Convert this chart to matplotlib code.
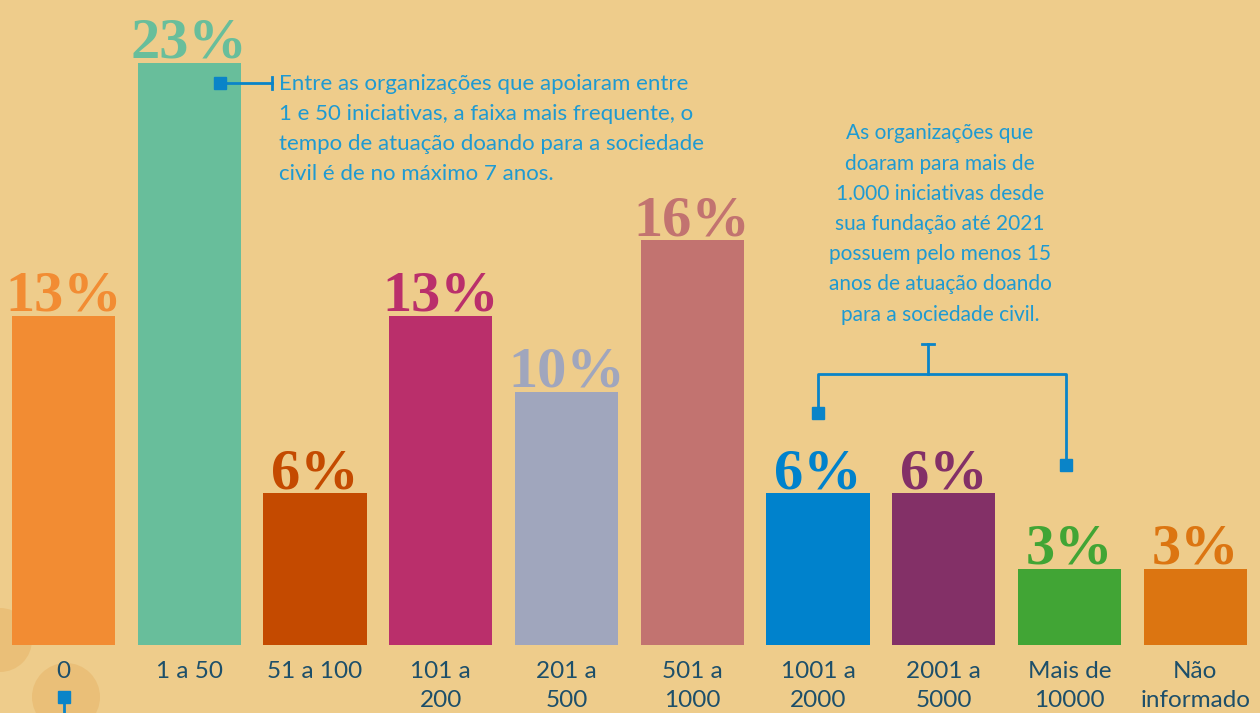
import matplotlib.pyplot as plt
from matplotlib.patches import Circle
from matplotlib.transforms import IdentityTransform

categories = ["0", "1 a 50", "51 a 100", "101 a\n200", "201 a\n500", "501 a\n1000",
              "1001 a\n2000", "2001 a\n5000", "Mais de\n10000", "Não\ninformado"]
values = [13, 23, 6, 13, 10, 16, 6, 6, 3, 3]
colors = ["#F28C33", "#68BE9B", "#C44A00", "#BA2F6B", "#A0A6BD",
          "#C27370", "#0082CC", "#833067", "#41A535", "#DC7511"]

note_left = ("Entre as organizações que apoiaram entre\n"
             "1 e 50 iniciativas, a faixa mais frequente, o\n"
             "tempo de atuação doando para a sociedade\n"
             "civil é de no máximo 7 anos.")
note_right = ("As organizações que\ndoaram para mais de\n1.000 iniciativas desde\n"
              "sua fundação até 2021\npossuem pelo menos 15\nanos de atuação doando\n"
              "para a sociedade civil.")

BG = "#EECC8B"
LINE = "#0A84C8"
W, H = 1260, 713

fig = plt.figure(figsize=(12.6, 7.13), dpi=100, facecolor=BG)
ax = fig.add_axes([0, 0, 1, 1])
ax.set_facecolor(BG)
ax.set_xlim(-0.505, 9.515)
ax.set_ylim(-2.69, 25.49)
ax.axis("off")


def fx(x):
    return x / W


def fy(y):
    return 1 - y / H


# faint decorative circles bottom-left (pixel units)
for cx, cy, r in [(0, 640, 32), (66, 697, 34)]:
    ax.add_patch(Circle((cx, H - cy), r, transform=IdentityTransform(),
                        color="#EABF78", zorder=0.5, lw=0))

x = range(len(values))
ax.bar(x, values, width=0.82, color=colors, zorder=2)

for i, (v, c) in enumerate(zip(values, colors)):
    ax.text(i, v + 0.2, f"{v}%", ha="center", va="baseline", color=c,
            fontsize=42, fontweight="bold", family="Liberation Serif", zorder=3)
    ax.text(i, -0.62, categories[i], ha="center", va="top", color="#1D4F6A",
            fontsize=17.5, family="Lato", linespacing=1.5)

# left annotation
ax.text(fx(279), fy(74), note_left, transform=fig.transFigure, ha="left", va="top",
        color="#1E9AD2", fontsize=16, family="Lato", linespacing=1.62)
fig.add_artist(plt.Line2D([fx(220), fx(272)], [fy(83)] * 2, color=LINE, lw=2))
fig.add_artist(plt.Line2D([fx(272)] * 2, [fy(77), fy(89)], color=LINE, lw=2))
fig.add_artist(plt.Line2D([fx(220)], [fy(83)], marker="s", ms=8, color=LINE))

# right annotation
ax.text(fx(940), fy(224), note_right, transform=fig.transFigure, ha="center", va="center",
        color="#1E9AD2", fontsize=15, family="Lato", linespacing=1.64)
fig.add_artist(plt.Line2D([fx(922), fx(934)], [fy(344)] * 2, color=LINE, lw=2))
fig.add_artist(plt.Line2D([fx(928)] * 2, [fy(344), fy(374)], color=LINE, lw=2))
fig.add_artist(plt.Line2D([fx(818), fx(818), fx(1066), fx(1066)],
                          [fy(413), fy(374), fy(374), fy(465)],
                          color=LINE, lw=2))
fig.add_artist(plt.Line2D([fx(818), fx(1066)], [fy(413), fy(465)],
                          ls="none", marker="s", ms=8, color=LINE))

# bottom-left marker
fig.add_artist(plt.Line2D([fx(64)] * 2, [fy(697), 0], color=LINE, lw=2))
fig.add_artist(plt.Line2D([fx(64)], [fy(697)], marker="s", ms=8, color=LINE))

fig.savefig("out.png", dpi=100, facecolor=BG)
